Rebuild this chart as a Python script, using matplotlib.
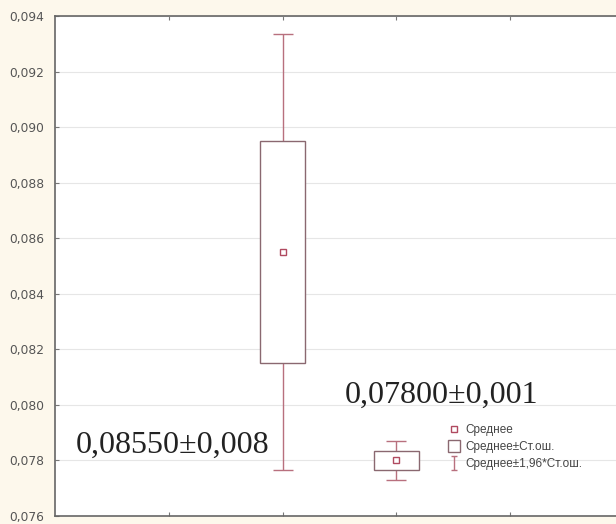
import numpy as np
import matplotlib
matplotlib.use("Agg")
import matplotlib.pyplot as plt
from matplotlib.lines import Line2D
from matplotlib.path import Path
from matplotlib.ticker import FuncFormatter, MultipleLocator

# средние и стандартные ошибки для двух групп
positions = [2, 3]
means = [0.0855, 0.0780]
std_err = [0.0040, 0.00035]
labels = ["0,08550±0,008", "0,07800±0,001"]
label_xy = [(0.18, 0.07827), (2.55, 0.08007)]

box_col = "#8a6870"
whisk_col = "#b8707e"
mean_col = "#b04a60"

fig = plt.figure(figsize=(6.16, 5.24), dpi=100, facecolor="#fdf8ec")
ax = fig.add_axes([55 / 616, 8 / 524, 561 / 616, 500 / 524])
ax.set_facecolor("white")

m = np.array(means)
se = np.array(std_err)
ci = 1.96 * se

# усы: среднее ± 1,96*Ст.ош.
ax.errorbar(positions, m, yerr=ci, fmt="none", ecolor=whisk_col,
            elinewidth=1.0, capsize=7.5, capthick=1.0, zorder=2)
# коробки: среднее ± Ст.ош.
ax.bar(positions, 2 * se, bottom=m - se, width=0.4, color="white",
       edgecolor=box_col, linewidth=1.0, zorder=3)
# среднее
ax.plot(positions, m, "s", ms=4.5, mfc="white", mec=mean_col, mew=1.0,
        zorder=4, linestyle="none")

for txt, (tx, ty) in zip(labels, label_xy):
    ax.text(tx, ty, txt, family="Liberation Serif", fontsize=23,
            color="#222222", va="baseline", ha="left")

ax.set_xlim(0, 4.93)
ax.set_ylim(0.076, 0.094)
ax.yaxis.set_major_locator(MultipleLocator(0.002))
ax.yaxis.set_major_formatter(FuncFormatter(lambda v, p: f"{v:.3f}".replace(".", ",")))
ax.set_xticks([1, 2, 3, 4])
ax.set_xticklabels([])
ax.tick_params(axis="y", direction="in", length=3, labelsize=8.8,
               labelcolor="#555555", color="#777777", pad=8)
ax.tick_params(axis="x", direction="in", length=3, color="#777777",
               top=True, bottom=True)
ax.grid(axis="y", color="#e6e6e6", linewidth=0.8)
ax.set_axisbelow(True)

for s in ["left", "top", "bottom"]:
    ax.spines[s].set_color("#666666")
    ax.spines[s].set_linewidth(1.2)
ax.spines["right"].set_visible(False)

# легенда
i_marker = Path([(-0.5, 1), (0.5, 1), (0, 1), (0, -1), (-0.5, -1), (0.5, -1)],
                [Path.MOVETO, Path.LINETO, Path.MOVETO, Path.LINETO,
                 Path.MOVETO, Path.LINETO])
handles = [
    Line2D([], [], marker="s", ls="none", ms=4, mfc="white", mec=mean_col, mew=1.0),
    Line2D([], [], marker="s", ls="none", ms=9, mfc="white", mec=box_col, mew=1.0),
    Line2D([], [], marker=i_marker, ls="none", ms=10, mec=whisk_col, mew=1.0),
]
leg = ax.legend(handles, ["Среднее", "Среднее±Ст.ош.", "Среднее±1,96*Ст.ош."],
                loc="upper left", bbox_to_anchor=(0.69, 0.195), frameon=False,
                handlelength=1.0, handletextpad=0.5, labelspacing=0.42,
                borderpad=0, prop={"family": "Liberation Sans", "size": 8.5})
for t in leg.get_texts():
    t.set_color("#444444")

fig.savefig("out.png", dpi=100, facecolor=fig.get_facecolor())
